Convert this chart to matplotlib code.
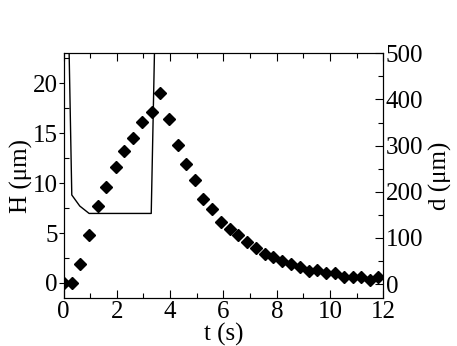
import matplotlib
matplotlib.use('Agg')
import matplotlib.pyplot as plt
from matplotlib.ticker import MultipleLocator

# diamond series, H (um) against t (s)
t_pts = [0.0, 0.31, 0.61, 0.96, 1.29, 1.6, 1.95, 2.28, 2.6, 2.96, 3.31, 3.62,
         3.96, 4.28, 4.6, 4.93, 5.25, 5.57, 5.91, 6.24, 6.56, 6.89, 7.22, 7.55,
         7.87, 8.21, 8.54, 8.87, 9.21, 9.52, 9.85, 10.2, 10.53, 10.85, 11.17,
         11.51, 11.81]
H_pts = [0.0, 0.0, 1.9, 4.8, 7.7, 9.6, 11.6, 13.2, 14.5, 16.1, 17.1, 19.0,
         16.4, 13.8, 11.9, 10.3, 8.4, 7.4, 6.1, 5.4, 4.8, 4.1, 3.5, 2.9,
         2.55, 2.2, 1.9, 1.55, 1.2, 1.3, 0.95, 1.0, 0.6, 0.6, 0.6, 0.3, 0.6]

# line series, d (um) against t (s)
t_line = [0.0, 0.31, 0.61, 0.96, 1.29, 1.6, 1.95, 2.28, 2.6, 2.96, 3.29, 3.62]
d_line = [1150, 193, 169, 153, 153, 153, 153, 153, 153, 153, 153, 1100]

plt.rcParams['font.family'] = ['Liberation Serif', 'DejaVu Serif']
fsize = 18

fig = plt.figure(figsize=(4.57, 3.46), dpi=100)
ax = fig.add_axes([0.139, 0.139, 0.7, 0.707])
ax2 = ax.twinx()

ax.plot(t_pts, H_pts, linestyle='none', marker='D', markersize=6.0, color='black')
ax2.plot(t_line, d_line, color='black', linewidth=1.0)

ax.set_xlim(0, 12)
ax.set_ylim(-1.5, 23)
ax2.set_ylim(-30, 500)

ax.xaxis.set_major_locator(MultipleLocator(2))
ax.xaxis.set_minor_locator(MultipleLocator(1))
ax.yaxis.set_major_locator(MultipleLocator(5))
ax.yaxis.set_minor_locator(MultipleLocator(2.5))
ax2.yaxis.set_major_locator(MultipleLocator(100))
ax2.yaxis.set_minor_locator(MultipleLocator(50))

ax.tick_params(axis='x', which='both', direction='in', top=True, labelsize=fsize, pad=2)
ax.tick_params(axis='x', which='major', length=6, width=0.8)
ax.tick_params(axis='x', which='minor', length=3.5, width=0.8)
# left axis: major ticks stick out, minor ticks point in
ax.tick_params(axis='y', which='major', direction='out', length=3.5, width=0.8,
               right=False, labelsize=fsize, pad=0.5)
ax.tick_params(axis='y', which='minor', direction='in', length=3.5, width=0.8, right=False)
ax2.tick_params(axis='y', which='both', direction='in', labelsize=fsize, pad=1.5)
ax2.tick_params(which='major', length=6, width=0.8)
ax2.tick_params(which='minor', length=3.5, width=0.8)

ax.set_xlabel('t (s)', fontsize=fsize, labelpad=0.5)
ax.set_ylabel('H (\u03bcm)', fontsize=fsize, labelpad=0)
ax2.set_ylabel('d (\u03bcm)', fontsize=fsize, labelpad=4)

fig.savefig('out.png', dpi=100)
